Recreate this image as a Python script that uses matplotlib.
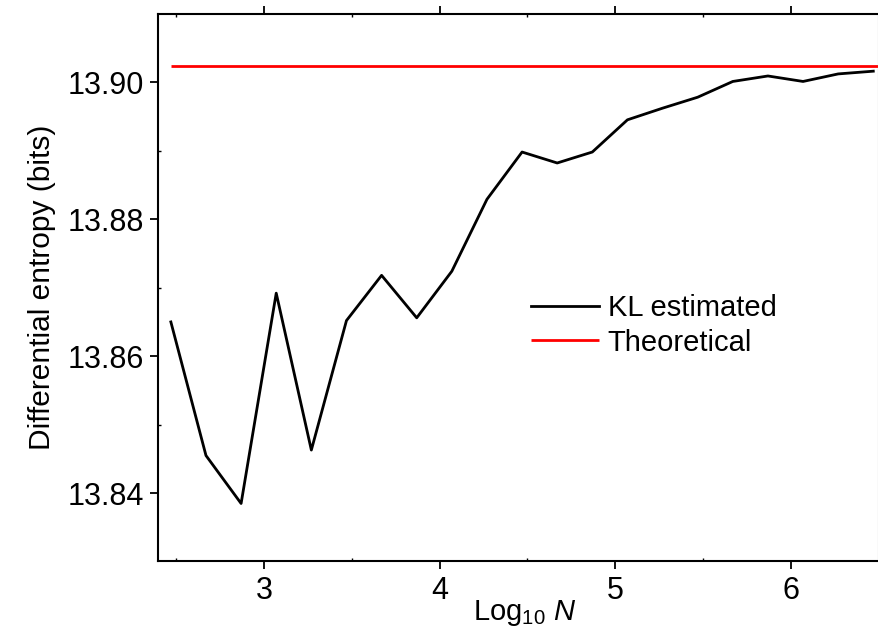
import matplotlib
matplotlib.use("Agg")
import matplotlib.pyplot as plt
from matplotlib.ticker import MultipleLocator

plt.rcParams['font.family'] = ['Liberation Sans', 'DejaVu Sans']
plt.rcParams['mathtext.fontset'] = 'custom'
plt.rcParams['mathtext.rm'] = 'Liberation Sans'
plt.rcParams['mathtext.it'] = 'Liberation Sans:italic'

log_n = [2.47, 2.67, 2.87, 3.07, 3.27, 3.47, 3.67, 3.87, 4.07, 4.27, 4.47,
         4.67, 4.87, 5.07, 5.27, 5.47, 5.67, 5.87, 6.07, 6.27, 6.47]
kl_estimated = [13.8650, 13.8455, 13.8385, 13.8692, 13.8463, 13.8652, 13.8718,
                13.8656, 13.8724, 13.8829, 13.8898, 13.8882, 13.8898, 13.8945,
                13.8962, 13.8978, 13.9001, 13.9009, 13.9001, 13.9012, 13.9016]
theoretical = 13.9023
x_range = [2.395, 6.497]

fig = plt.figure(figsize=(8.79, 6.39), dpi=100)
ax = fig.add_axes([0.1794, 0.122, 0.8195, 0.8556])

ax.plot(log_n, kl_estimated, color='black', lw=2.0, label='KL estimated')
ax.plot([log_n[0], x_range[1]], [theoretical, theoretical], color='#ff0000', lw=2.0,
        label='Theoretical', solid_capstyle='butt')

ax.set_xlim(x_range)
ax.set_ylim(13.8301, 13.9099)
ax.xaxis.set_major_locator(MultipleLocator(1))
ax.xaxis.set_minor_locator(MultipleLocator(0.5))
ax.yaxis.set_major_locator(MultipleLocator(0.02))
ax.yaxis.set_minor_locator(MultipleLocator(0.01))
ax.yaxis.set_major_formatter(matplotlib.ticker.FormatStrFormatter('%.2f'))

ax.tick_params(axis='both', which='major', direction='out', length=6, width=1.3,
               labelsize=22, top=True, right=False, pad=4)
ax.tick_params(axis='both', which='minor', direction='in', length=2, width=1.0,
               top=True, right=False)
ax.tick_params(axis='x', which='major', pad=5)

for s in ['left', 'bottom', 'top']:
    ax.spines[s].set_linewidth(1.5)
ax.spines['right'].set_linewidth(0.8)
ax.spines['right'].set_color('#999999')

ax.set_xlabel(r'Log$_{10}$ $\it{N}$', fontsize=21, labelpad=0)
ax.xaxis.set_label_coords(0.51, -0.068, transform=ax.transAxes)
ax.xaxis.label.set_verticalalignment('top')
ax.set_ylabel('Differential entropy (bits)', fontsize=21.5, labelpad=8)

ax.legend(loc='center left', bbox_to_anchor=(0.482, 0.431), frameon=False,
          fontsize=21, handlelength=2.33, handletextpad=0.3, labelspacing=0.22)

fig.savefig('out.png', dpi=100)
